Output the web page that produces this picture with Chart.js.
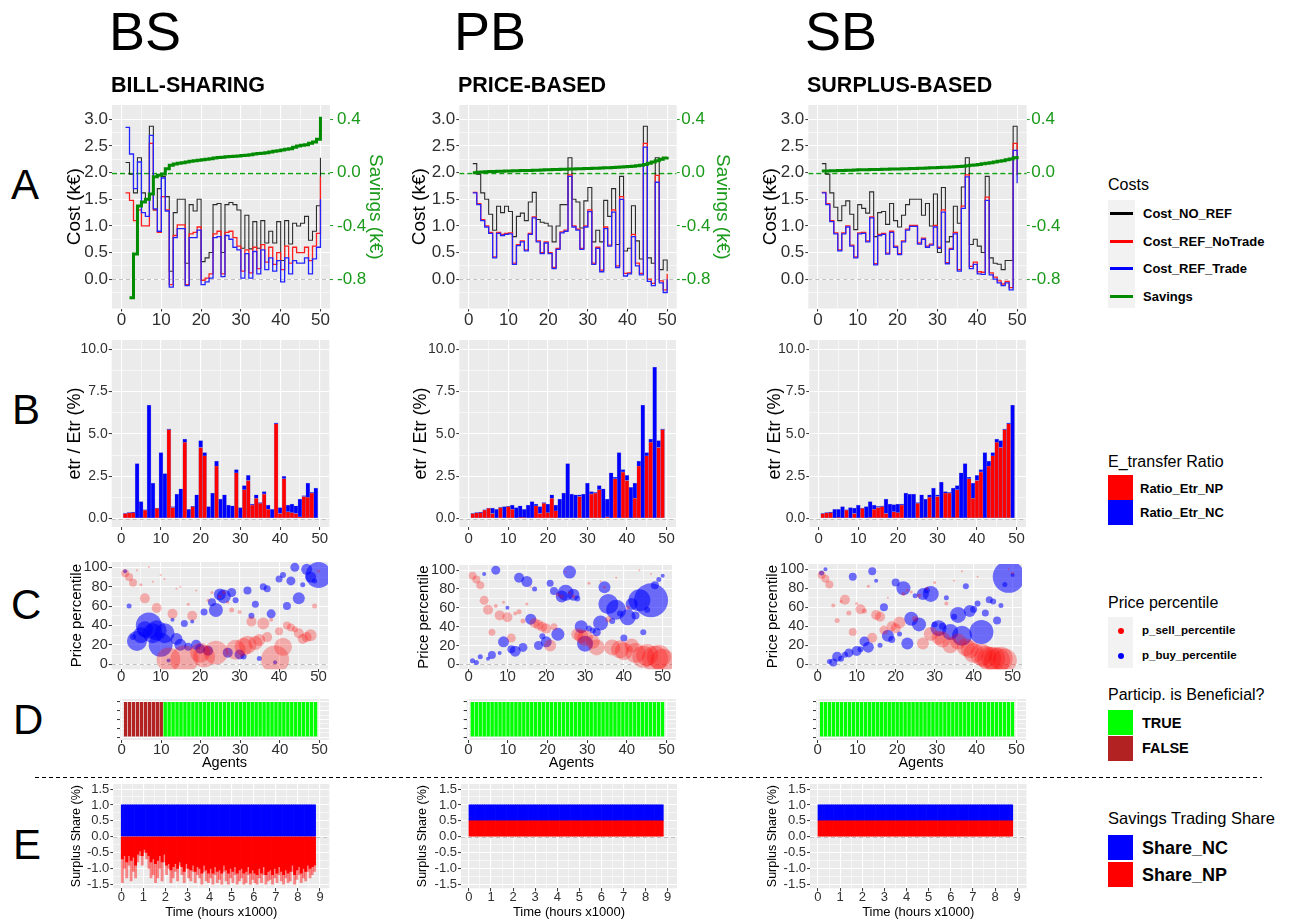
<!DOCTYPE html>
<html><head><meta charset="utf-8"><title>Market mechanisms comparison</title>
<script src="https://cdn.jsdelivr.net/npm/chart.js@4.4.1/dist/chart.umd.min.js"></script>
<style>
html,body{margin:0;padding:0;background:#fff}
body{width:1290px;height:921px;position:relative;overflow:hidden;font-family:"Liberation Sans",Arial,Helvetica,sans-serif}
canvas{position:absolute}
.t{position:absolute;white-space:nowrap;line-height:1;color:#000}
.sw{position:absolute}
</style></head><body>
<script>
// ================= DATA =================
const agents = [1,2,3,4,5,6,7,8,9,10,11,12,13,14,15,16,17,18,19,20,21,22,23,24,25,26,27,28,29,30,31,32,33,34,35,36,37,38,39,40,41,42,43,44,45,46,47,48,49,50];
const agents49 = agents.slice(0,49);

// --- A: costs (k€) and savings (k€) ---
const costNoRef_BS = [2.19,1.97,1.62,2.28,1.62,1.50,2.87,1.30,1.70,1.93,1.55,0.15,1.25,1.50,1.50,0.30,1.40,1.28,1.50,0.33,0.40,0.50,1.40,1.42,0.50,1.40,1.44,1.40,1.30,0.58,1.20,0.57,1.08,0.58,1.10,0.68,0.90,0.68,1.08,0.35,1.10,0.66,1.05,1.00,1.05,1.18,0.73,0.90,1.38,2.28];
const costRefNoTrade_BS = [1.62,1.48,1.10,1.30,1.00,1.00,2.55,1.30,0.88,1.55,1.30,-0.10,0.82,1.02,1.02,-0.10,0.85,0.88,0.98,-0.02,0.02,0.10,0.85,0.90,0.10,0.88,0.90,0.78,0.62,0.15,0.55,0.12,0.60,0.20,0.65,0.32,0.60,0.28,0.50,0.18,0.62,0.30,0.60,0.50,0.50,0.60,0.35,0.62,0.86,1.93];
const costRefTrade_BS = [2.85,2.35,1.70,2.20,1.25,1.18,2.70,1.32,0.90,1.90,1.28,-0.15,0.78,0.95,0.95,-0.12,0.78,0.78,0.92,-0.10,-0.05,0.02,0.78,0.80,0.05,0.82,0.75,0.60,0.55,0.02,0.48,0.02,0.52,0.10,0.55,0.18,0.40,0.15,0.35,-0.05,0.40,0.10,0.35,0.30,0.30,0.40,0.10,0.38,0.60,1.50];
const savings_BS = [null,-0.94,-0.61,-0.25,-0.22,-0.20,-0.16,-0.03,-0.02,-0.01,0.03,0.055,0.065,0.07,0.075,0.08,0.085,0.09,0.093,0.096,0.10,0.105,0.11,0.113,0.116,0.12,0.122,0.124,0.126,0.128,0.13,0.135,0.14,0.143,0.146,0.15,0.155,0.16,0.165,0.17,0.175,0.18,0.19,0.20,0.205,0.21,0.22,0.23,0.25,0.42];

const costNoRef_PB = [2.17,1.97,1.62,1.50,1.22,0.92,1.37,1.25,1.37,1.27,0.80,1.18,1.24,1.10,1.45,1.63,1.12,1.07,1.05,1.00,0.70,1.00,1.40,1.40,2.28,1.50,1.45,0.96,1.47,1.72,0.70,0.92,0.70,1.48,1.18,1.70,0.65,1.93,0.53,0.58,1.38,0.72,0.38,2.87,0.40,0.30,2.28,0.18,0.36,0.15];
const costRefNoTrade_PB = [1.63,1.42,1.12,1.00,0.88,0.42,0.88,0.84,0.86,0.87,0.30,0.65,0.72,0.55,0.86,1.17,0.72,0.50,0.70,0.50,0.22,0.58,0.89,0.92,1.96,1.00,0.94,0.58,1.00,1.30,0.30,0.60,0.17,0.98,0.64,1.30,0.25,1.55,0.11,0.12,0.84,0.30,0.11,2.55,0.00,-0.08,1.95,-0.03,-0.20,0.10];
const costRefTrade_PB = [1.62,1.40,1.10,0.98,0.86,0.40,0.86,0.82,0.84,0.85,0.28,0.63,0.70,0.53,0.84,1.15,0.70,0.48,0.68,0.48,0.20,0.56,0.87,0.90,1.93,0.98,0.92,0.56,0.98,1.27,0.28,0.58,0.14,0.95,0.62,1.26,0.22,1.50,0.06,0.10,0.80,0.25,0.08,2.48,-0.04,-0.12,1.82,-0.07,-0.25,0.00];
const savings_PB = [0.000,0.003,0.005,0.006,0.008,0.009,0.010,0.011,0.012,0.013,0.014,0.015,0.016,0.017,0.017,0.018,0.019,0.020,0.021,0.022,0.023,0.024,0.025,0.026,0.027,0.028,0.029,0.030,0.031,0.032,0.033,0.034,0.035,0.036,0.037,0.038,0.040,0.042,0.044,0.046,0.049,0.052,0.056,0.062,0.070,0.080,0.090,0.100,0.110,0.120];

const costNoRef_SB = [2.17,1.97,1.62,1.35,1.10,1.38,1.47,1.22,0.93,1.40,1.33,1.24,1.64,0.80,1.25,1.27,1.03,1.42,1.10,0.98,1.20,1.40,1.50,1.50,1.50,1.20,1.42,1.00,1.60,0.50,1.72,0.70,0.80,1.37,1.05,1.73,2.28,0.65,0.75,0.62,0.50,1.93,0.40,0.30,0.28,0.18,0.35,0.35,2.87,2.40];
const costRefNoTrade_SB = [1.63,1.42,1.10,0.87,0.55,0.87,1.00,0.64,0.42,0.87,0.88,0.72,1.17,0.29,0.84,0.86,0.49,0.90,0.62,0.48,0.72,0.94,1.01,1.01,0.68,0.77,0.62,0.66,1.01,0.60,1.30,0.31,0.58,0.88,0.18,1.37,1.96,0.24,0.32,0.14,0.13,1.54,0.12,0.04,-0.03,-0.09,-0.04,-0.16,2.55,1.95];
const costRefTrade_SB = [1.62,1.40,1.08,0.85,0.53,0.85,0.98,0.62,0.40,0.85,0.86,0.70,1.15,0.27,0.82,0.84,0.47,0.88,0.60,0.46,0.70,0.92,0.99,0.99,0.66,0.75,0.60,0.64,0.98,0.58,1.26,0.29,0.56,0.85,0.15,1.33,1.92,0.20,0.28,0.10,0.09,1.48,0.08,0.00,-0.07,-0.12,-0.07,-0.20,2.42,1.80];
const savings_SB = [0.012,0.013,0.014,0.015,0.016,0.017,0.018,0.019,0.020,0.021,0.022,0.022,0.023,0.024,0.024,0.025,0.026,0.027,0.027,0.028,0.029,0.030,0.031,0.032,0.033,0.034,0.035,0.036,0.037,0.038,0.040,0.041,0.043,0.045,0.047,0.049,0.052,0.055,0.058,0.062,0.066,0.070,0.075,0.080,0.085,0.090,0.096,0.103,0.112,0.125];

// --- B: energy transfer ratio (%) ---
const ratioNP_BS = [0.30,0.33,0.35,0,0,0.50,0,0,0.60,0,0,5.25,0.65,0,0,4.50,0,0.70,0,4.20,3.70,0,0,3.10,0,0,0,0,2.70,0,1.70,2.25,0.80,1.20,0.90,1.45,0.55,0,5.60,0.30,2.35,0.40,0.35,0.30,0.10,1.30,1.25,1.50,0];
const ratioNC_BS = [0.02,0.02,0.03,3.25,1.00,0.02,6.70,2.10,0.02,3.90,2.65,0.05,0.05,1.45,1.75,0.20,0.55,0.02,1.40,0.40,0.20,0.70,1.50,0.30,1.15,1.40,0.80,0.75,0.20,0.65,0.25,0.30,0.05,0.20,0.05,0.15,0.25,0.55,0.05,0.35,0.15,0.40,0.50,0.45,1.05,0.05,0.85,0.05,1.80];
const ratioNP_PB = [0.30,0.33,0.35,0.50,0.60,0.30,0,0.65,0,0.70,0.55,0,0.05,0.05,0,0,0.75,0.30,0.90,0.35,1.20,0.45,0,0,0,0,0,1.30,0,0,1.45,1.50,1.70,0,0.10,0,2.35,0,2.75,2.25,0,1.20,3.10,0,3.70,4.50,0,4.20,5.25];
const ratioNC_PB = [0.02,0.02,0.03,0.02,0.02,0.32,0.55,0.03,0.70,0.02,0.25,0.65,0.70,0.50,0.80,1.00,0.10,0.40,0.05,0.50,0.20,0.35,1.15,1.50,3.25,1.45,1.40,0.10,1.45,2.10,0.15,0.05,0.25,1.75,1.05,2.70,0.10,3.90,0.15,0.30,1.85,0.90,0.30,6.70,0.20,0.20,8.95,0.40,0.05];
const ratioNP_SB = [0.30,0.33,0.35,0,0.05,0,0.50,0,0.30,0,0.60,0,0.05,0.55,0.65,0.70,0.30,0,0.40,0.35,0.80,0,0,0,0.90,0,0.05,1.25,0.05,1.30,0,1.50,1.50,0.05,1.70,0,0,2.35,1.20,2.25,2.75,0,3.10,3.70,4.50,4.20,5.25,5.60,0];
const ratioNC_SB = [0.02,0.02,0.03,0.55,0.50,0.70,0.02,0.65,0.32,0.80,0.02,0.70,0.95,0.25,0.07,0.05,0.85,0.85,0.42,0.50,0.05,1.50,1.45,1.45,0.05,1.40,1.10,0.15,1.75,0.10,2.15,0.10,0.05,1.75,0.25,2.70,3.25,0.10,0.90,0.30,0.15,3.90,0.30,0.20,0.20,0.40,0.05,0.05,6.70];

// --- C: price percentiles and bubble sizes ---
const pSell_BS = [94,90,84,97,82,68,100,85,58,92,88,5,52,78,80,5,62,50,76,12,8,66,74,12,70,74,64,56,15,54,18,20,44,22,25,42,28,46,5,34,18,40,38,36,32,26,28,30,60,96];
const sizeSell_BS = [4,4,4,1,1.5,5,1,1,5,1,1,12,5,1,1,14,1.5,5,1,10,11,1.5,1.5,12,2,2,1.5,2.5,10,2,9,9,5,7,6,6,5,2,14,4,9,4,4,3,5,5,5,6,2.5,1.5];
const pBuy_BS = [96,60,28,24,30,36,40,32,35,20,32,4,46,26,20,42,18,44,20,16,54,14,64,56,72,70,12,74,66,10,8,76,50,62,6,80,78,52,2,88,92,60,86,100,68,82,98,90,86,92];
const sizeBuy_BS = [2,2.5,3,10,8,8,13,10,10,12,10,2,2,6,6,3.5,4,2,5,5,3.5,5,4,7,6,7,5,4.5,3,5,3,4,3,3.5,2.5,3.5,3.5,4.5,2,3.5,3,4,4.5,4.5,6,2.5,5.5,5.5,2.5,13];
const pSell_PB = [94,90,84,68,58,34,62,52,66,50,28,54,56,46,64,82,44,42,40,38,20,40,74,72,98,76,72,32,30,28,86,24,18,88,82,48,18,92,16,14,60,20,12,100,8,10,96,6,8,4];
const sizeSell_PB = [4,4,4,4.5,5,3.5,2,5,1.5,5,4.5,2,2.5,2.5,1.5,1,5,5,5,5,6,3.5,2,2,1,1.5,2,6,7,8,1.5,7,8,1,1.5,3,8,1,9,9,2,7,10,1,11,11,1,13,12,12];
const pBuy_PB = [4,2,8,96,6,10,100,12,24,60,16,14,92,18,88,48,80,20,30,24,86,78,32,72,76,98,74,70,40,22,38,36,34,44,82,64,46,58,54,28,50,64,52,68,34,58,68,84,90,94];
const sizeBuy_PB = [2.5,2.5,2.5,2,2,4,4.5,2,5.5,2,4,5.5,5,4.5,5.5,5.5,2.5,4.5,3,5.5,3.5,4,6.5,6,8,6.5,6,3,6.5,8,3,3,4,7.5,6,10,3,10,3,3.5,8,6,4,11,3,3,17,4,2.5,2];
const pSell_SB = [94,90,84,62,46,66,68,54,34,64,58,56,82,28,52,50,36,70,40,38,44,74,78,76,48,72,22,80,32,86,28,26,64,20,88,24,98,18,16,12,92,10,8,6,6,4,6,4,100,96];
const sizeSell_SB = [4,4,4,2,2.5,1.5,5,2.5,4,1.5,5,2.5,1.5,5,5,5,4.5,1,5,5,6,2,1.5,1.5,3,2,6,1.5,7,1.5,7,8,2,8,1,8,1,9,9,10,1,11,11,12,12,13,12,12,1,1.5];
const pBuy_SB = [96,100,3,2,8,6,10,12,92,14,16,24,18,98,88,20,60,30,26,86,32,80,22,48,72,42,74,78,74,42,38,40,70,34,50,52,30,82,56,58,64,34,54,68,66,46,62,84,92,94];
const sizeBuy_SB = [2.5,2,2.5,4,5,3,3,4.5,4,5,3,5,5.5,4,2,2.5,4,6,3.5,4,2.5,7,6,7,2.5,7,6,3,8,3,8,3.5,2.5,8,3,8,10,3,6,3.5,3,12,3.5,3.5,3,4,2.5,2.5,16,2];

// --- D: participation beneficial? (T/F per agent) ---
const beneficial_BS = "FFFFFFFFFFTTTTTTTTTTTTTTTTTTTTTTTTTTTTTTTTTTTTTTT".split('').map(c => c === 'T');
const beneficial_PB = "TTTTTTTTTTTTTTTTTTTTTTTTTTTTTTTTTTTTTTTTTTTTTTTTT".split('').map(c => c === 'T');
const beneficial_SB = "TTTTTTTTTTTTTTTTTTTTTTTTTTTTTTTTTTTTTTTTTTTTTTTTT".split('').map(c => c === 'T');

// --- E: surplus share over time (hours x1000, 100-h buckets) ---
const timeK = Array.from({length: 88}, (_, i) => +(0.05 + 0.1 * i).toFixed(2));
const shareNC_BS = new Array(88).fill(1.0);
const shareNP_BS_extreme = [-1.45,-1.0,-1.3,-0.9,-1.4,-1.1,-1.3,-0.8,-0.6,-0.9,-0.5,-0.7,-1.0,-1.3,-1.2,-1.45,-1.3,-1.0,-1.4,-0.8,-1.2,-1.0,-1.45,-1.3,-1.1,-1.4,-0.9,-1.2,-1.45,-1.0,-1.3,-1.4,-1.1,-1.45,-1.2,-1.3,-1.5,-1.1,-1.4,-1.45,-1.3,-1.5,-1.2,-1.45,-1.35,-1.5,-1.1,-1.4,-1.5,-1.3,-1.45,-1.2,-1.5,-1.4,-1.3,-1.5,-1.45,-1.2,-1.5,-1.35,-1.45,-1.5,-1.3,-1.45,-1.2,-1.5,-1.4,-1.35,-1.5,-1.3,-1.45,-1.2,-1.4,-1.5,-1.3,-1.45,-1.4,-1.1,-1.5,-1.35,-1.2,-1.45,-1.3,-1.4,-1.1,-1.3,-1.2,-1.1];
const shareNP_BS_typical = [-0.7,-0.6,-0.8,-0.6,-0.75,-0.65,-0.9,-0.55,-0.45,-0.6,-0.4,-0.5,-0.6,-0.8,-0.7,-0.85,-0.75,-0.6,-0.8,-0.55,-0.9,-0.85,-1.05,-0.95,-0.85,-1.0,-0.8,-0.95,-1.1,-0.85,-1.0,-1.05,-0.9,-1.1,-0.95,-1.0,-1.15,-0.9,-1.05,-1.15,-1.0,-1.15,-0.95,-1.1,-1.05,-1.15,-0.9,-1.05,-1.15,-1.0,-1.1,-0.95,-1.15,-1.05,-1.0,-1.15,-1.1,-0.95,-1.15,-1.05,-1.15,-1.2,-1.0,-1.15,-0.95,-1.2,-1.1,-1.05,-1.2,-1.0,-1.15,-0.95,-1.1,-1.2,-1.05,-1.15,-1.1,-0.9,-1.2,-1.05,-0.95,-1.15,-1.0,-1.1,-0.9,-1.0,-0.95,-0.9];
const shareNP_PB = new Array(88).fill(0.5);
const shareNC_PB = new Array(88).fill(0.5);
const shareNP_SB = new Array(88).fill(0.5);
const shareNC_SB = new Array(88).fill(0.5);

// ================= STYLE / HELPERS =================
const FONT = '"Liberation Sans", Arial, Helvetica, sans-serif';
const TICKC = '#303030';
const GREEN = '#008B00';
const GREEN_T = '#1A9A1A';
Chart.defaults.font.family = FONT;

function makeCanvas(box){
  const c = document.createElement('canvas');
  c.width = box[2]; c.height = box[3];
  Object.assign(c.style, {left: box[0]+'px', top: box[1]+'px', width: box[2]+'px', height: box[3]+'px'});
  document.body.appendChild(c);
  return c.getContext('2d');
}

function axis(o){
  const isMaj = v => o.majors.some(m => Math.abs(m - v) < 1e-9);
  const all = o.majors.concat(o.minors || []).filter(v => v >= o.min && v <= o.max).sort((a,b) => a - b);
  return {
    type: 'linear', position: o.pos, min: o.min, max: o.max, bounds: 'data', offset: false,
    stacked: o.stacked || false,
    afterBuildTicks: ax => { ax.ticks = all.map(v => ({value: v})); },
    grid: {
      drawOnChartArea: o.grid !== false, color: '#FFFFFF', offset: false,
      lineWidth: c => (c.tick && isMaj(c.tick.value)) ? 1.1 : 0.55,
      drawTicks: true, tickLength: o.tl ?? 3, tickWidth: 1,
      tickColor: c => (c.tick && isMaj(c.tick.value)) ? (o.tc || '#333333') : 'rgba(0,0,0,0)'
    },
    border: {display: false},
    ticks: {
      autoSkip: false, maxRotation: 0, minRotation: 0, padding: o.pad ?? 1,
      color: o.color || TICKC, font: {family: FONT, size: o.fs, lineHeight: o.lh || 1},
      callback: v => (o.noLabels || !isMaj(v)) ? '' : o.fmt(v)
    },
    title: o.title ? {display: true, text: o.title, color: o.tcol || '#000',
      font: {family: FONT, size: o.ts, lineHeight: 1.2}, padding: {top: o.tp || 0, bottom: o.tp || 0}} : {display: false}
  };
}

const bgPlugin = {id: 'panelBg', beforeDraw(ch){
  const a = ch.chartArea, c = ch.ctx; c.save(); c.fillStyle = '#EBEBEB';
  c.fillRect(a.left, a.top, a.right - a.left, a.bottom - a.top); c.restore(); }};

function refPlugin(lines){
  return {id: 'refLines', beforeDatasetsDraw(ch){
    const a = ch.chartArea, c = ch.ctx;
    for (const l of lines){
      const y = Math.round(ch.scales[l.axis].getPixelForValue(l.value)) + 0.5;
      c.save(); c.beginPath(); c.rect(a.left, a.top, a.right - a.left, a.bottom - a.top); c.clip();
      c.strokeStyle = l.color; c.lineWidth = l.width || 1; c.setLineDash(l.dash || [4,3]);
      c.beginPath(); c.moveTo(a.left, y); c.lineTo(a.right, y); c.stroke(); c.restore();
    }
  }};
}

function panel(box, plot, type, datasets, scales, lines){
  const ctx = makeCanvas(box);
  const [bx, by, bw, bh] = box; const [pl, pt, pr, pb] = plot;
  let hasRight = false;
  for (const s of Object.values(scales)){
    if (s.position === 'right') hasRight = true;
    const f = s.position === 'left' ? pl - bx : s.position === 'right' ? bx + bw - pr : by + bh - pb;
    s.afterFit = ax => {
      if (ax.isHorizontal()){ ax.height = f; ax.paddingLeft = 0; ax.paddingRight = 0; }
      else { ax.width = f; ax.paddingTop = 0; ax.paddingBottom = 0; }
    };
  }
  return new Chart(ctx, {
    type, data: {datasets},
    options: {
      responsive: false, animation: false, devicePixelRatio: 1, events: [],
      layout: {padding: {top: pt - by, left: 0, bottom: 0, right: hasRight ? 0 : (bx + bw - pr)}},
      scales,
      plugins: {legend: {display: false}, tooltip: {enabled: false}}
    },
    plugins: [bgPlugin, refPlugin(lines || [])]
  });
}

const FMT1 = v => v.toFixed(1);
const FMT0 = v => String(Math.round(v));
const X50 = {min: -2.4, max: 52.4, majors: [0,10,20,30,40,50], minors: [5,15,25,35,45]};

// ---------- A ----------
function costPanel(box, plot, noRef, refNo, refTr, sav, rightTitle, rpad){
  const pts = arr => agents.map((a, i) => ({x: a, y: arr[i]}));
  const ds = [
    {data: pts(sav), yAxisID: 'y2', borderColor: GREEN, borderWidth: 3, order: 0},
    {data: pts(refTr), yAxisID: 'y', borderColor: '#2424FF', borderWidth: 1.3, order: 1},
    {data: pts(refNo), yAxisID: 'y', borderColor: '#FF1E1E', borderWidth: 1.3, order: 2},
    {data: pts(noRef), yAxisID: 'y', borderColor: 'rgba(0,0,0,0.82)', borderWidth: 1.1, order: 3}
  ].map(d => Object.assign(d, {stepped: 'before', pointRadius: 0, fill: false, tension: 0, spanGaps: false}));
  const scales = {
    x: axis(Object.assign({pos: 'bottom', fs: 17, fmt: FMT0, pad: 0.5}, X50)),
    y: axis({pos: 'left', min: -0.55, max: 3.27, majors: [0,0.5,1,1.5,2,2.5,3], minors: [-0.25,0.25,0.75,1.25,1.75,2.25,2.75],
      fs: 17, fmt: FMT1, title: 'Cost (k€)', ts: 19, tp: 2.6}),
    y2: axis({pos: 'right', min: -1.02, max: 0.508, majors: [-0.8,-0.4,0,0.4], fs: 17, fmt: FMT1, grid: false,
      tc: GREEN_T, color: GREEN_T, title: rightTitle, ts: 19, tcol: GREEN_T, tp: 2.6, pad: rpad})
  };
  return panel(box, plot, 'line', ds, scales,
    [{axis: 'y', value: 0, color: '#C0C0C0', dash: [4,3]}, {axis: 'y2', value: 0, color: '#16A016', dash: [5,3], width: 1.3}]);
}

// ---------- B ----------
function etrPanel(box, plot, np, nc){
  const pts = arr => agents49.map((a, i) => ({x: a, y: arr[i]}));
  const common = {categoryPercentage: 1, barPercentage: 1, borderColor: 'rgba(90,90,190,0.55)', borderWidth: 0.5, borderSkipped: false};
  const ds = [Object.assign({data: pts(np), backgroundColor: '#FF0000'}, common),
              Object.assign({data: pts(nc), backgroundColor: '#0000FF'}, common)];
  const scales = {
    x: axis(Object.assign({pos: 'bottom', fs: 15, fmt: FMT0, lh: 1.2, pad: 0, stacked: true}, X50)),
    y: axis({pos: 'left', min: -0.5, max: 10.55, majors: [0,2.5,5,7.5,10], minors: [1.25,3.75,6.25,8.75],
      fs: 14, fmt: FMT1, title: 'etr / Etr (%)', ts: 18, tp: 2, stacked: true})
  };
  return panel(box, plot, 'bar', ds, scales, [{axis: 'y', value: 0, color: '#C0C0C0', dash: [4,3]}]);
}

// ---------- C ----------
function pricePanel(box, plot, sy, sr, by, br){
  const pts = (ys, rs) => agents.map((a, i) => ({x: a, y: ys[i], r: rs[i]}));
  const ds = [
    {data: pts(sy, sr), backgroundColor: 'rgba(255,0,0,0.28)', borderWidth: 0, clip: 0, order: 0},
    {data: pts(by, br), backgroundColor: 'rgba(0,0,255,0.55)', borderWidth: 0, clip: 0, order: 1}
  ];
  const scales = {
    x: axis(Object.assign({pos: 'bottom', fs: 15, fmt: FMT0, lh: 0.6, pad: 0}, X50)),
    y: axis({pos: 'left', min: -5.2, max: 105.5, majors: [0,20,40,60,80,100], minors: [10,30,50,70,90],
      fs: 14.5, fmt: FMT0, title: 'Price percentile', ts: 15, tp: 2})
  };
  return panel(box, plot, 'bubble', ds, scales, [{axis: 'y', value: 0, color: '#C0C0C0', dash: [4,3]}]);
}

// ---------- D ----------
function benefitPanel(box, plot, ben){
  const ds = [{data: agents49.map(a => ({x: a, y: 1})), backgroundColor: ben.map(b => b ? '#00FF00' : '#B22222'),
    borderColor: 'rgba(255,255,255,0.4)', borderWidth: 0.6, categoryPercentage: 1, barPercentage: 1}];
  const scales = {
    x: axis({pos: 'bottom', min: -0.42, max: 52.4, majors: [0,10,20,30,40,50], minors: [5,15,25,35,45],
      fs: 15, fmt: FMT0, lh: 0.9, pad: 0, title: 'Agents', ts: 14.5, tp: 0.6, stacked: true}),
    y: axis({pos: 'left', min: -0.08, max: 1.08, majors: [0,0.25,0.5,0.75,1], minors: [0.125,0.375,0.625,0.875],
      fs: 10, fmt: FMT1, noLabels: true})
  };
  return panel(box, plot, 'bar', ds, scales, []);
}

// ---------- E ----------
function sharePanel(box, plot, ds, yStacked){
  ds.forEach(d => Object.assign(d, {categoryPercentage: 1, barPercentage: 1, borderWidth: 0}));
  const scales = {
    x: axis({pos: 'bottom', min: -0.36, max: 9.42, majors: [0,1,2,3,4,5,6,7,8,9], minors: [0.5,1.5,2.5,3.5,4.5,5.5,6.5,7.5,8.5],
      fs: 13, fmt: FMT0, lh: 0.9, pad: 0, title: 'Time (hours x1000)', ts: 13, tp: 1, stacked: true}),
    y: axis({pos: 'left', min: -1.63, max: 1.66, majors: [-1.5,-1,-0.5,0,0.5,1,1.5], minors: [-1.25,-0.75,-0.25,0.25,0.75,1.25],
      fs: 13, fmt: FMT1, title: 'Surplus Share (%)', ts: 12.5, tp: 2, stacked: yStacked})
  };
  return panel(box, plot, 'bar', ds, scales, [{axis: 'y', value: 0, color: '#C0C0C0', dash: [4,3]}]);
}
const tpts = arr => timeK.map((t, i) => ({x: t, y: arr[i]}));

// ================= BUILD PANELS =================
costPanel([61,95,328,240], [112,105,330,308.5], costNoRef_BS, costRefNoTrade_BS, costRefTrade_BS, savings_BS, 'Savings (k€)', 4);
costPanel([406,95,330,240], [459.3,105,676.7,308.5], costNoRef_PB, costRefNoTrade_PB, costRefTrade_PB, savings_PB, 'Savings (k€)', 1.5);
costPanel([757,95,318,240], [808.3,105,1026.7,308.5], costNoRef_SB, costRefNoTrade_SB, costRefTrade_SB, savings_SB, undefined, 1.5);

etrPanel([62,330,280,222], [111.7,340,329.3,527], ratioNP_BS, ratioNC_BS);
etrPanel([408,330,280,222], [459.3,340,676,527], ratioNP_PB, ratioNC_PB);
etrPanel([762,330,280,222], [809.3,340,1026,527], ratioNP_SB, ratioNC_SB);

pricePanel([66,548,276,140], [111.7,556.7,329,669.3], pSell_BS, sizeSell_BS, pBuy_BS, sizeBuy_BS);
pricePanel([413,548,276,140], [459.3,556.7,676,669.3], pSell_PB, sizeSell_PB, pBuy_PB, sizeBuy_PB);
pricePanel([762,548,276,140], [808.3,556.7,1026,669.3], pSell_SB, sizeSell_SB, pBuy_SB, sizeBuy_SB);

benefitPanel([100,692,240,80], [120,699,329,740], beneficial_BS);
benefitPanel([447,692,240,80], [466.7,699,676,740], beneficial_PB);
benefitPanel([796,692,240,80], [816,699,1026,740], beneficial_SB);

sharePanel([67,776,280,145], [113.3,784,329.3,888.3], [
  {data: tpts(shareNC_BS), backgroundColor: '#0000FF', order: 2},
  {data: tpts(shareNP_BS_extreme), backgroundColor: 'rgba(255,30,30,0.5)', order: 1},
  {data: tpts(shareNP_BS_typical), backgroundColor: '#FF0000', order: 0}], false);
sharePanel([413,776,280,145], [461,784,677,888.3], [
  {data: tpts(shareNP_PB), backgroundColor: '#FF0000'},
  {data: tpts(shareNC_PB), backgroundColor: '#0000FF'}], true);
sharePanel([763,776,280,145], [810,784,1026.5,888.3], [
  {data: tpts(shareNP_SB), backgroundColor: '#FF0000'},
  {data: tpts(shareNC_SB), backgroundColor: '#0000FF'}], true);

// ================= TEXT & LEGENDS =================
function txt(s, x, base, size, o){
  o = o || {};
  const d = document.createElement('div'); d.className = 't'; d.textContent = s;
  d.style.left = x + 'px'; d.style.top = (base - 0.8465 * size) + 'px'; d.style.fontSize = size + 'px';
  if (o.bold) d.style.fontWeight = 'bold';
  if (o.color) d.style.color = o.color;
  document.body.appendChild(d);
}
function rect(x, y, w, h, color, extra){
  const d = document.createElement('div'); d.className = 'sw';
  Object.assign(d.style, {left: x+'px', top: y+'px', width: w+'px', height: h+'px', background: color}, extra || {});
  document.body.appendChild(d);
}

txt('BS', 109, 50, 54); txt('PB', 454, 50, 54); txt('SB', 805, 50, 54);
txt('BILL-SHARING', 111, 93, 21.5, {bold: true});
txt('PRICE-BASED', 458, 93, 21.5, {bold: true});
txt('SURPLUS-BASED', 807, 93, 21.5, {bold: true});
txt('A', 11, 200, 42); txt('B', 12, 425, 42); txt('C', 11, 620, 42); txt('D', 13, 735, 42); txt('E', 13, 860, 42);

// Costs legend
txt('Costs', 1108, 191, 16);
rect(1108, 200, 27, 108, '#F2F2F2');
rect(1110, 211.5, 23, 3.5, '#000000'); rect(1110, 239.5, 23, 3.5, '#FF0000');
rect(1110, 266.5, 23, 3.5, '#0000FF'); rect(1110, 294.5, 23, 3.5, GREEN);
txt('Cost_NO_REF', 1143, 217.7, 13, {bold: true});
txt('Cost_REF_NoTrade', 1143, 245.7, 13, {bold: true});
txt('Cost_REF_Trade', 1143, 272.7, 13, {bold: true});
txt('Savings', 1143, 300.7, 13, {bold: true});

// E_transfer legend
txt('E_transfer Ratio', 1108, 467.7, 16);
rect(1108, 475, 24.5, 25, '#FF0000'); rect(1108, 500, 24.5, 24.5, '#0000FF');
txt('Ratio_Etr_NP', 1140, 492.7, 13, {bold: true});
txt('Ratio_Etr_NC', 1140, 516.7, 13, {bold: true});

// Price percentile legend
txt('Price percentile', 1108, 608.7, 16);
rect(1108, 617, 25, 51, '#F2F2F2');
rect(1118, 628, 6, 6, '#FF0000', {borderRadius: '50%'});
rect(1118, 653, 6, 6, '#0000FF', {borderRadius: '50%'});
txt('p_sell_percentile', 1142, 635.1, 11.5, {bold: true});
txt('p_buy_percentile', 1142, 660.1, 11.5, {bold: true});

// Beneficial legend
txt('Particip. is Beneficial?', 1108, 700.7, 16);
rect(1108, 710, 24.5, 25, '#00FF00'); rect(1108, 736, 24.5, 24.5, '#B22222');
txt('TRUE', 1142, 728.2, 14.5, {bold: true});
txt('FALSE', 1142, 753.2, 14.5, {bold: true});

// separator
rect(35, 777, 1227, 1, 'repeating-linear-gradient(90deg,#000 0 4px,transparent 4px 7px)');

// Savings trading share legend
txt('Savings Trading Share', 1108, 823.9, 16.5);
rect(1108, 835, 24.5, 25, '#0000FF'); rect(1108, 862, 24.5, 25, '#FF0000');
txt('Share_NC', 1142, 854.4, 18, {bold: true});
txt('Share_NP', 1142, 881, 18, {bold: true});
</script>
</body></html>
